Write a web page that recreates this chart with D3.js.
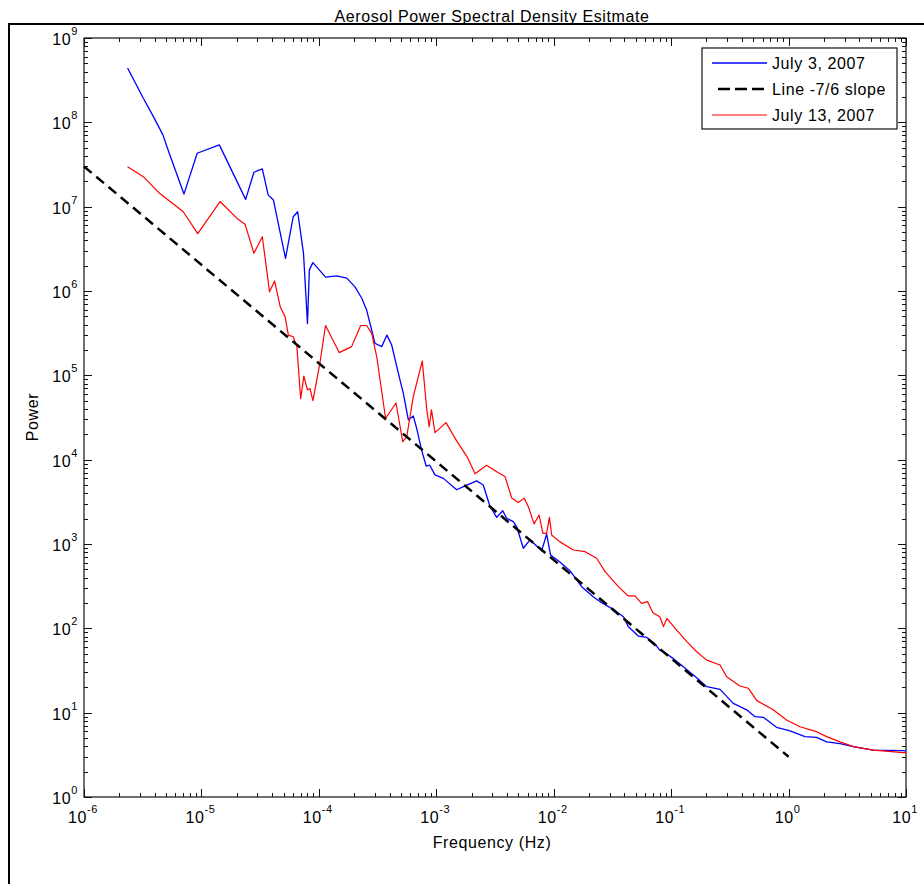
<!DOCTYPE html>
<html>
<head>
<meta charset="utf-8">
<script src="https://cdn.jsdelivr.net/npm/d3@7"></script>
<style>
  body { margin: 0; background: #fff; }
  svg { display: block; font-family: "Liberation Sans", Arial, sans-serif; }
  text { letter-spacing: 0.6px; }
</style>
</head>
<body>
<div id="chart"></div>
<script>
/*
Aerosol power spectral density, log-log, two days plus a -7/6 reference slope
*/

// July 3, 2007 (blue)
const julyThreeFreq = [
  2.35e-6, 3.2e-6, 3.9e-6, 4.7e-6, 5.2e-6, 7.1e-6, 9.2e-6, 1.42e-5, 2.38e-5, 2.8e-5,
  3.3e-5, 3.7e-5, 4.1e-5, 5.2e-5, 6.05e-5, 6.6e-5, 7.4e-5, 8.0e-5, 8.3e-5, 8.9e-5,
  1.14e-4, 1.42e-4, 1.73e-4, 2.03e-4, 2.32e-4, 2.55e-4, 2.91e-4, 3.0e-4, 3.43e-4, 3.8e-4,
  4.17e-4, 4.75e-4, 5.24e-4, 5.78e-4, 6.37e-4, 6.8e-4, 7.5e-4, 8.2e-4, 8.8e-4, 9.75e-4,
  1.15e-3, 1.49e-3, 1.82e-3, 2.21e-3, 2.51e-3, 2.86e-3, 3.27e-3, 3.68e-3, 3.98e-3, 4.53e-3,
  4.84e-3, 5.51e-3, 6.28e-3, 7.16e-3, 7.9e-3, 8.7e-3, 9.4e-3, 1.13e-2, 1.38e-2, 1.73e-2,
  2.17e-2, 2.56e-2, 3.21e-2, 3.92e-2, 4.31e-2, 5.25e-2, 6.2e-2, 7.3e-2, 8.0e-2, 8.9e-2,
  0.104, 0.127, 0.165, 0.201, 0.261, 0.338, 0.44, 0.518, 0.61, 0.79,
  1.03, 1.38, 1.73, 2.11, 2.74, 3.56, 5.26, 9.5, 10,
];
const julyThreePower = [
  4.4e8, 1.93e8, 1.17e8, 7.1e7, 4.7e7, 1.41e7, 4.3e7, 5.4e7, 1.22e7, 2.56e7,
  2.8e7, 1.38e7, 1.2e7, 2.44e6, 7.6e6, 8.7e6, 2.8e6, 4.1e5, 1.78e6, 2.17e6,
  1.46e6, 1.51e6, 1.42e6, 1.12e6, 8.2e5, 5.96e5, 2.87e5, 2.4e5, 2.19e5, 3.0e5,
  2.29e5, 1.06e5, 6.1e4, 2.96e4, 3.3e4, 2.36e4, 1.3e4, 8.4e3, 8.6e3, 6.6e3,
  6.0e3, 4.4e3, 5.0e3, 5.6e3, 5.0e3, 2.82e3, 2.07e3, 2.48e3, 2.02e3, 1.84e3,
  1.6e3, 890, 1.12e3, 947, 833, 1.31e3, 741, 612, 479, 312,
  237, 201, 168, 137, 105, 81, 78, 65, 55, 51,
  44, 35, 26, 20.3, 18.9, 12.9, 10.8, 8.96, 8.8, 6.7,
  6.1, 5.2, 5.1, 4.5, 4.3, 3.95, 3.6, 3.54, 3.5,
];

// July 13, 2007 (red)
const julyThirteenFreq = [
  2.35e-6, 3.2e-6, 4.4e-6, 7.0e-6, 9.3e-6, 1.44e-5, 2.0e-5, 2.35e-5, 2.8e-5, 3.3e-5,
  3.8e-5, 4.2e-5, 4.7e-5, 5.15e-5, 5.5e-5, 6.05e-5, 6.5e-5, 7.0e-5, 7.45e-5, 8.0e-5,
  8.4e-5, 8.9e-5, 1.02e-4, 1.14e-4, 1.49e-4, 1.9e-4, 2.27e-4, 2.55e-4, 2.82e-4, 3.11e-4,
  3.7e-4, 4.54e-4, 5.18e-4, 5.6e-4, 6.37e-4, 7.6e-4, 8.3e-4, 8.7e-4, 9.1e-4, 9.75e-4,
  1.21e-3, 1.49e-3, 1.83e-3, 2.14e-3, 2.68e-3, 3.27e-3, 3.85e-3, 4.39e-3, 4.99e-3, 5.61e-3,
  6.08e-3, 6.8e-3, 7.5e-3, 8.1e-3, 8.7e-3, 9.2e-3, 9.6e-3, 1.13e-2, 1.47e-2, 1.85e-2,
  2.32e-2, 2.74e-2, 3.55e-2, 4.31e-2, 4.92e-2, 5.6e-2, 6.3e-2, 7.0e-2, 8.0e-2, 8.6e-2,
  9.2e-2, 0.111, 0.136, 0.165, 0.201, 0.261, 0.297, 0.385, 0.454, 0.536,
  0.74, 0.96, 1.25, 1.73, 2.11, 2.74, 3.56, 5.26, 9.5, 10,
];
const julyThirteenPower = [
  2.98e7, 2.27e7, 1.44e7, 8.7e6, 4.8e6, 1.15e7, 7.3e6, 6.2e6, 2.8e6, 4.4e6,
  9.8e5, 1.31e6, 6.4e5, 5.0e5, 3.0e5, 2.87e5, 2.19e5, 5.3e4, 9.8e4, 6.7e4,
  7.0e4, 5.0e4, 1.39e5, 3.9e5, 1.86e5, 2.19e5, 3.9e5, 3.9e5, 3.15e5, 1.66e5,
  3.1e4, 4.7e4, 1.63e4, 1.87e4, 5.6e4, 1.48e5, 3.9e4, 2.46e4, 3.9e4, 2.09e4,
  2.75e4, 1.67e4, 1.08e4, 6.8e3, 8.6e3, 7.2e3, 6.3e3, 3.5e3, 3.1e3, 3.5e3,
  2.77e3, 1.73e3, 2.21e3, 1.34e3, 1.34e3, 2.07e3, 1.28e3, 1.06e3, 849, 811,
  677, 470, 312, 242, 242, 198, 207, 153, 137, 105,
  131, 96, 69.5, 52.8, 42, 36.7, 26.7, 20.7, 19.5, 13.9,
  10.8, 8.2, 6.8, 5.95, 5.2, 4.5, 3.95, 3.6, 3.35, 3.35,
];

// Reference line, -7/6 slope (end points)
const slopeFreq = [1e-6, 1];
const slopePower = [3e7, 3];

// Decade tick exponents
const xExponents = [-6, -5, -4, -3, -2, -1, 0, 1];
const yExponents = [0, 1, 2, 3, 4, 5, 6, 7, 8, 9];

const legendLabels = ["July 3, 2007", "Line -7/6 slope", "July 13, 2007"];

const W = 924;
const H = 884;
const plot = { left: 84, right: 906, top: 38, bottom: 797 };

const svg = d3
  .select("#chart")
  .append("svg")
  .attr("width", W)
  .attr("height", H);

const x = d3.scaleLog().domain([1e-6, 10]).range([plot.left, plot.right]);
const y = d3.scaleLog().domain([1, 1e9]).range([plot.bottom, plot.top]);

// Figure frame (cut off at right and bottom in the original)
svg
  .append("path")
  .attr("d", `M9,${H} V24 H${W}`)
  .attr("fill", "none")
  .attr("stroke", "#000")
  .attr("stroke-width", 2);

svg
  .append("text")
  .attr("x", 492)
  .attr("y", 22)
  .attr("text-anchor", "middle")
  .attr("font-size", 16)
  .text("Aerosol Power Spectral Density Esitmate");

// Axes box
svg
  .append("rect")
  .attr("x", plot.left)
  .attr("y", plot.top)
  .attr("width", plot.right - plot.left)
  .attr("height", plot.bottom - plot.top)
  .attr("fill", "none")
  .attr("stroke", "#111")
  .attr("stroke-width", 1.2);

// Minor + major ticks, inward on all four sides
function decadeTicks(exps) {
  const out = [];
  exps.forEach((e, i) => {
    out.push({ v: Math.pow(10, e), major: true });
    if (i < exps.length - 1) {
      for (let k = 2; k <= 9; k++) out.push({ v: k * Math.pow(10, e), major: false });
    }
  });
  return out;
}

const ticks = svg.append("g").attr("stroke", "#111").attr("stroke-width", 1);
const tlen = (d) => (d.major ? 8 : 4);

decadeTicks(xExponents).forEach((d) => {
  const px = Math.round(x(d.v)) + 0.5;
  ticks.append("line").attr("x1", px).attr("x2", px)
    .attr("y1", plot.bottom).attr("y2", plot.bottom - tlen(d));
  ticks.append("line").attr("x1", px).attr("x2", px)
    .attr("y1", plot.top).attr("y2", plot.top + tlen(d));
});

decadeTicks(yExponents).forEach((d) => {
  const py = Math.round(y(d.v)) + 0.5;
  ticks.append("line").attr("y1", py).attr("y2", py)
    .attr("x1", plot.left).attr("x2", plot.left + tlen(d));
  ticks.append("line").attr("y1", py).attr("y2", py)
    .attr("x1", plot.right).attr("x2", plot.right - tlen(d));
});

// Tick labels as 10 with a superscript exponent
function powerLabel(g, e) {
  g.append("tspan").attr("font-size", 16).text("10");
  g.append("tspan").attr("font-size", 11).attr("dy", -10).text(e);
}

xExponents.forEach((e) => {
  const t = svg
    .append("text")
    .attr("x", x(Math.pow(10, e)) - 1)
    .attr("y", 823)
    .attr("text-anchor", "middle");
  powerLabel(t, e);
});

yExponents.forEach((e) => {
  const t = svg
    .append("text")
    .attr("x", 78)
    .attr("y", y(Math.pow(10, e)) + 7)
    .attr("text-anchor", "end");
  powerLabel(t, e);
});

svg
  .append("text")
  .attr("x", 492)
  .attr("y", 848)
  .attr("text-anchor", "middle")
  .attr("font-size", 16)
  .text("Frequency (Hz)");

svg
  .append("text")
  .attr("transform", "translate(38,417) rotate(-90)")
  .attr("text-anchor", "middle")
  .attr("font-size", 16)
  .text("Power");

// Series
const line = d3
  .line()
  .x((d) => x(d[0]))
  .y((d) => y(d[1]));

const series = [
  { freq: julyThreeFreq, power: julyThreePower, color: "#0000ff", width: 1.3, dash: null },
  { freq: slopeFreq, power: slopePower, color: "#000", width: 2.5, dash: "10,6" },
  { freq: julyThirteenFreq, power: julyThirteenPower, color: "#ff0000", width: 1.2, dash: null },
];

const lines = svg.append("g");
// draw blue, then red, then the slope line on top
[series[0], series[2], series[1]].forEach((s) => {
  lines
    .append("path")
    .datum(d3.zip(s.freq, s.power))
    .attr("fill", "none")
    .attr("stroke", s.color)
    .attr("stroke-width", s.width)
    .attr("stroke-dasharray", s.dash)
    .attr("stroke-linejoin", "round")
    .attr("d", line);
});

// Legend
const legend = svg.append("g").attr("transform", "translate(702,48)");
legend
  .append("rect")
  .attr("width", 195)
  .attr("height", 81)
  .attr("fill", "#fff")
  .attr("stroke", "#111")
  .attr("stroke-width", 1.2);

series.forEach((s, i) => {
  const ry = 15 + i * 26;
  legend
    .append("line")
    .attr("x1", s.dash ? 16 : 10)
    .attr("x2", 65)
    .attr("y1", ry)
    .attr("y2", ry)
    .attr("stroke", s.color)
    .attr("stroke-width", s.width)
    .attr("stroke-dasharray", s.dash ? "12,5" : null);
  legend
    .append("text")
    .attr("x", 70)
    .attr("y", ry + 6)
    .attr("font-size", 16)
    .text(legendLabels[i]);
});
</script>
</body>
</html>
